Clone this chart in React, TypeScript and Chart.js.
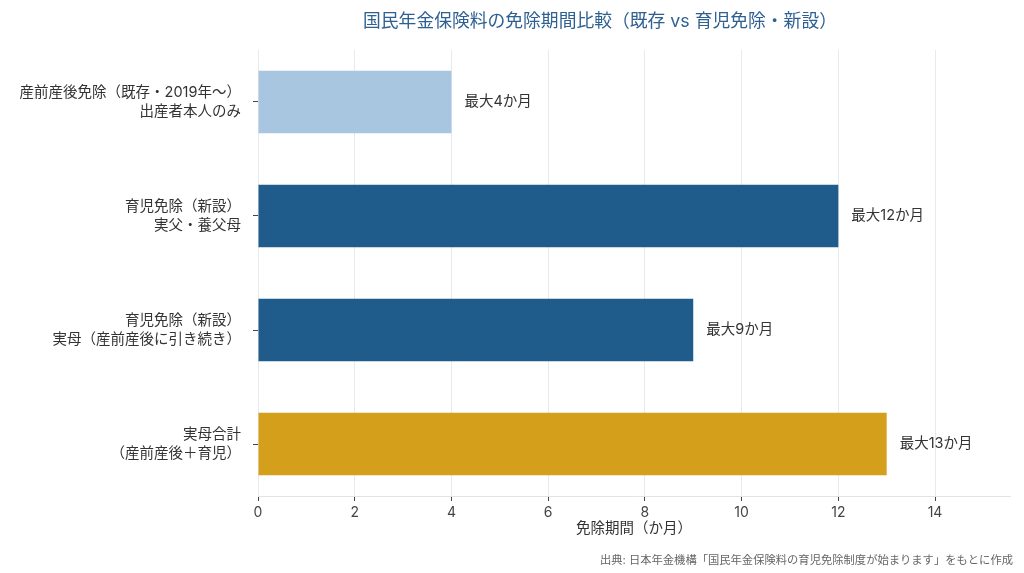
import { useEffect, useRef } from 'react';
import { Chart, registerables } from 'chart.js';

Chart.register(...registerables);

const categories = [
  ['産前産後免除（既存・2019年〜）', '出産者本人のみ'],
  ['育児免除（新設）', '実父・養父母'],
  ['育児免除（新設）', '実母（産前産後に引き続き）'],
  ['実母合計', '（産前産後＋育児）'],
];
const months = [4, 12, 9, 13];
const valueLabels = ['最大4か月', '最大12か月', '最大9か月', '最大13か月'];
const xTicks = [0, 2, 4, 6, 8, 10, 12, 14];

const FONT = 'Inter, "Noto Sans CJK JP", sans-serif';

const textPlugin = {
  id: 'texts',
  afterDatasetsDraw(chart: Chart) {
    const ctx = chart.ctx;
    const meta = chart.getDatasetMeta(0);
    ctx.save();
    ctx.font = `14.5px ${FONT}`;
    ctx.fillStyle = '#333';
    ctx.textAlign = 'left';
    ctx.textBaseline = 'middle';
    meta.data.forEach((el: any, i: number) => {
      ctx.fillText(valueLabels[i], el.x + 13, el.y);
    });
    ctx.restore();
  },
  afterDraw(chart: Chart) {
    const ctx = chart.ctx;
    const area = chart.chartArea;
    ctx.save();
    ctx.font = `17.8px ${FONT}`;
    ctx.fillStyle = '#2e6092';
    ctx.textAlign = 'center';
    ctx.textBaseline = 'middle';
    ctx.fillText('国民年金保険料の免除期間比較（既存 vs 育児免除・新設）', 600, 22);
    ctx.font = `14.5px ${FONT}`;
    ctx.fillStyle = '#333';
    ctx.fillText('免除期間（か月）', (area.left + area.right) / 2, 529);
    ctx.font = `11.3px ${FONT}`;
    ctx.fillStyle = '#666';
    ctx.textAlign = 'right';
    ctx.fillText('出典: 日本年金機構「国民年金保険料の育児免除制度が始まります」をもとに作成', 1013, 561);
    ctx.restore();
  },
};

export default function App() {
  const chartRef = useRef<HTMLCanvasElement>(null);
  const chartInstanceRef = useRef<Chart | null>(null);

  useEffect(() => {
    document.body.style.margin = '0';
    if (chartRef.current) {
      chartInstanceRef.current = new Chart(chartRef.current, {
        type: 'bar',
        data: {
          datasets: [
            {
              data: months.map((m, i) => ({ x: m, y: i })),
              backgroundColor: ['#a9c6e1', '#1f5b8b', '#1f5b8b', '#d4a01b'],
              borderWidth: 0,
              barPercentage: 0.55,
              categoryPercentage: 1,
            },
          ],
        },
        options: {
          indexAxis: 'y',
          responsive: false,
          animation: false,
          layout: { padding: { left: 0, right: 14, top: 50, bottom: 0 } },
          plugins: {
            legend: { display: false },
            tooltip: { enabled: false },
          },
          scales: {
            x: {
              type: 'linear',
              min: 0,
              max: 15.55,
              afterBuildTicks: (scale: any) => {
                scale.ticks = xTicks.map((v) => ({ value: v }));
              },
              afterFit: (scale: any) => {
                scale.height = 77;
              },
              ticks: { color: '#444', font: { family: FONT, size: 14 }, padding: 3 },
              grid: { color: '#e6e9f0', tickColor: '#444', tickLength: 5 },
              border: { color: '#dfe3ea' },
            },
            y: {
              type: 'linear',
              reverse: true,
              offset: false,
              min: -0.456,
              max: 3.456,
              afterBuildTicks: (scale: any) => {
                scale.ticks = categories.map((_, i) => ({ value: i }));
              },
              afterFit: (scale: any) => {
                scale.width = 258;
              },
              ticks: {
                color: '#333',
                font: { family: FONT, size: 14.5, lineHeight: 1.3 },
                padding: 12,
                callback: (v: any) => categories[v as number],
              },
              grid: { offset: false, drawOnChartArea: false, tickColor: '#444', tickLength: 5 },
              border: { color: '#e6e9f0' },
            },
          },
        },
        plugins: [textPlugin],
      });
    }

    return () => {
      chartInstanceRef.current?.destroy();
    };
  }, []);

  return (
    <div style={{ position: 'absolute', top: 0, left: 0, width: 1024, height: 573, background: '#fff' }}>
      <canvas ref={chartRef} width={1024} height={573} style={{ display: 'block' }} />
    </div>
  );
}
